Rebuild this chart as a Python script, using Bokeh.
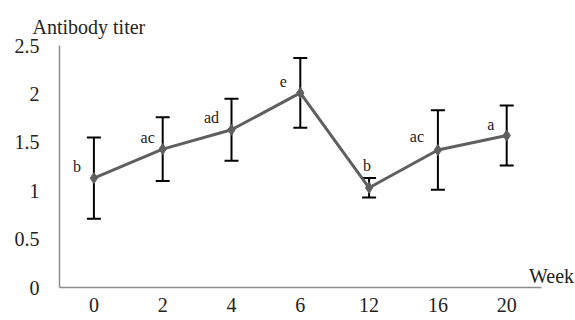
from bokeh.plotting import figure
from bokeh.models import ColumnDataSource, Whisker, TeeHead, Label, Range1d, FixedTicker
from bokeh.embed import file_html
from bokeh.resources import INLINE
from bokeh.core.properties import value

# ---- data ----
weeks = ["0", "2", "4", "6", "12", "16", "20"]
titer = [1.13, 1.43, 1.63, 2.01, 1.03, 1.42, 1.57]
sd = [0.42, 0.33, 0.32, 0.36, 0.10, 0.41, 0.31]
letters = ["b", "ac", "ad", "e", "b", "ac", "a"]
y_ticks = [0, 0.5, 1, 1.5, 2, 2.5]
y_tick_labels = ["0", "0.5", "1", "1.5", "2", "2.5"]

# ---- styling (label placement in pixels) ----
lab_dx = [-17, -15, -20, -17, -2, -21, -16]
lab_dy = [-12, -12, -12, -11, -22, -14, -11]

FONT = "Liberation Serif"
TXT = "#222222"

n = len(weeks)
xpos = [i + 0.5 for i in range(n)]          # category centres
lower = [v - e for v, e in zip(titer, sd)]
upper = [v + e for v, e in zip(titer, sd)]

src = ColumnDataSource(dict(x=xpos, titer=titer, lower=lower, upper=upper,
                            letter=letters, dx=lab_dx, dy=lab_dy))

p = figure(x_range=Range1d(0, n + 0.5), y_range=Range1d(0, 2.5), width=575, height=320,
           output_backend="svg", toolbar_location=None,
           min_border_left=59, min_border_right=0, min_border_top=45, min_border_bottom=33)
p.outline_line_color = None
p.xgrid.visible = False
p.ygrid.visible = False

for ax in (p.xaxis[0], p.yaxis[0]):
    ax.axis_line_color = "#8c8c8c"
    ax.axis_line_width = 1.5
    ax.major_tick_line_color = None
    ax.minor_tick_line_color = None
    ax.major_tick_out = 0
    ax.major_tick_in = 0
    ax.major_label_text_font = FONT
    ax.major_label_text_font_size = "20px"
    ax.major_label_text_color = TXT

p.xaxis.bounds = (0, n)
p.xaxis.ticker = FixedTicker(ticks=xpos)
p.xaxis.major_label_overrides = {x: w for x, w in zip(xpos, weeks)}
p.xaxis.major_label_standoff = 10
p.yaxis.ticker = FixedTicker(ticks=y_ticks)
p.yaxis.major_label_overrides = {t: l for t, l in zip(y_ticks, y_tick_labels)}
p.yaxis.major_label_standoff = 20

p.title.text = "Antibody titer"
p.title.align = "left"
p.title.offset = -27
p.title.standoff = 15
p.title.text_font = FONT
p.title.text_font_size = "20px"
p.title.text_font_style = "normal"
p.title.text_color = TXT

wh = Whisker(source=src, base="x", lower="lower", upper="upper",
             line_color="black", line_width=2, level="underlay",
             upper_head=TeeHead(size=14, line_color="black", line_width=2),
             lower_head=TeeHead(size=14, line_color="black", line_width=2))
p.add_layout(wh)

p.line("x", "titer", source=src, line_color="#5f5f5f", line_width=3)
p.scatter("x", "titer", source=src, marker="diamond", size=11,
          fill_color="#5f5f5f", line_color="#5f5f5f")

p.text("x", "titer", text="letter", source=src, x_offset="dx", y_offset="dy",
       text_font=value(FONT), text_font_size="16px", text_color=TXT,
       text_align="center", text_baseline="middle")

p.add_layout(Label(x=6.825, y=0.114, text="Week", text_font=FONT,
                   text_font_size="20px", text_color=TXT,
                   text_baseline="middle", text_align="left"))

open("out.html", "w").write(file_html(p, INLINE))
